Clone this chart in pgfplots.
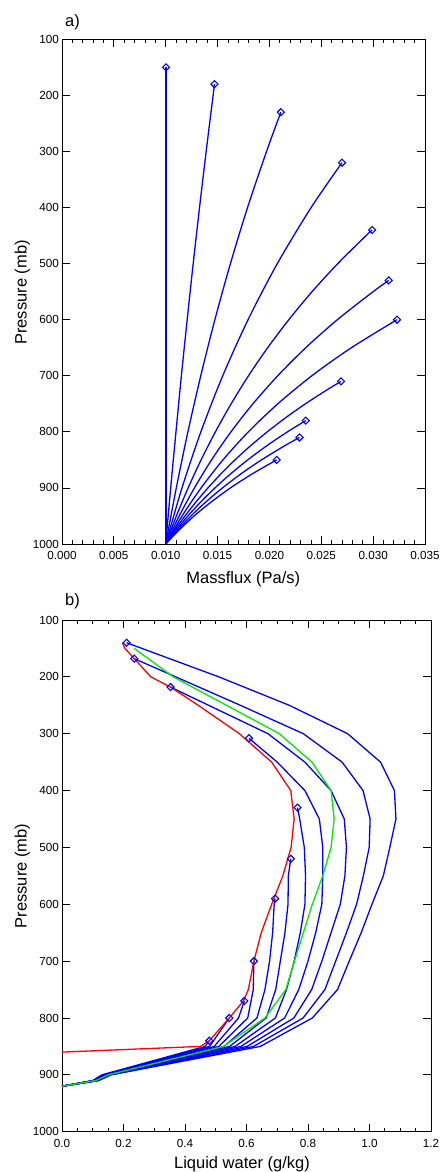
\documentclass[border=0pt]{standalone}
\usepackage{fontspec}
\setmainfont{Liberation Sans}
\usepackage{pgfplots}
\pgfplotsset{compat=1.18}
\definecolor{lgreen}{RGB}{0,235,0}
\begin{document}
\begin{tikzpicture}
\path[use as bounding box] (0bp,0bp) rectangle (441bp,1172bp);
\pgfplotsset{
  every axis/.append style={
    scale only axis,
    y dir=reverse,
    ymin=100, ymax=1000,
    ytick={100,200,300,400,500,600,700,800,900,1000},
    axis line style={line width=0.9bp},
    major tick length=8bp,
    minor tick length=4bp,
    every tick/.append style={black, line width=0.8bp},
    tick label style={font=\fontsize{11.7bp}{13bp}\selectfont},
    /pgf/number format/assume math mode=true,
    /pgf/number format/1000 sep={},
    xticklabel style={anchor=north, inner sep=0pt, yshift=-7.5bp},
    yticklabel style={anchor=east, inner sep=0pt, xshift=-3bp},
    scaled x ticks=false,
  },
  bl/.style={blue, line width=1.3bp, no markers},
  mk/.style={blue, only marks, mark=square, mark size=2.5bp, mark options={rotate=45, line width=1.1bp}},
}
% ---------------- a) ----------------
\begin{axis}[at={(62bp,628bp)}, anchor=south west, width=363bp, height=504.7bp,
  xmin=0, xmax=0.035,
  xtick={0,0.005,0.01,0.015,0.02,0.025,0.03,0.035},
  minor x tick num=4,
  xticklabel style={/pgf/number format/.cd, fixed, fixed zerofill, precision=3}]
\addplot[bl] coordinates {(0.01003,1000) (0.01003,150)};
\addplot[bl, smooth] coordinates {(0.0100,1000) (0.01048,900) (0.01099,800) (0.01151,700) (0.01207,600) (0.01265,500) (0.01326,400) (0.01390,300) (0.01457,200) (0.0147,180)};
\addplot[bl, smooth] coordinates {(0.0100,1000) (0.01102,900) (0.01214,800) (0.01338,700) (0.01474,600) (0.01624,500) (0.01789,400) (0.01972,300) (0.0211,230)};
\addplot[bl, smooth] coordinates {(0.0100,1000) (0.01157,900) (0.01339,800) (0.01550,700) (0.01794,600) (0.02076,500) (0.02402,400) (0.0270,320)};
\addplot[bl, smooth] coordinates {(0.0100,1000) (0.01103,950) (0.01216,900) (0.01341,850) (0.01479,800) (0.01631,750) (0.01798,700) (0.01983,650) (0.02187,600) (0.02411,550) (0.02659,500) (0.02932,450) (0.0299,440)};
\addplot[bl, smooth] coordinates {(0.0100,1000) (0.01130,950) (0.01277,900) (0.01442,850) (0.01629,800) (0.01841,750) (0.02080,700) (0.02350,650) (0.02655,600) (0.03000,550) (0.0315,530)};
\addplot[bl, smooth] coordinates {(0.0100,1000) (0.01158,950) (0.01341,900) (0.01552,850) (0.01797,800) (0.02081,750) (0.02409,700) (0.02790,650) (0.0323,600)};
\addplot[bl, smooth] coordinates {(0.0100,1000) (0.01089,975) (0.01186,950) (0.01292,925) (0.01407,900) (0.01532,875) (0.01668,850) (0.01817,825) (0.01979,800) (0.02155,775) (0.02347,750) (0.02556,725) (0.0269,710)};
\addplot[bl, smooth] coordinates {(0.0100,1000) (0.01102,975) (0.01214,950) (0.01338,925) (0.01475,900) (0.01625,875) (0.01791,850) (0.01973,825) (0.02174,800) (0.0235,780)};
\addplot[bl, smooth] coordinates {(0.0100,1000) (0.01115,975) (0.01244,950) (0.01387,925) (0.01547,900) (0.01725,875) (0.01924,850) (0.02145,825) (0.0229,810)};
\addplot[bl, smooth] coordinates {(0.0100,1000) (0.01129,975) (0.01274,950) (0.01439,925) (0.01624,900) (0.01834,875) (0.0207,850)};
\addplot[mk] coordinates {(0.01003,150) (0.0147,180) (0.0211,230) (0.0270,320) (0.0299,440) (0.0315,530) (0.0323,600) (0.0269,710) (0.0235,780) (0.0229,810) (0.0207,850)};
\end{axis}
% ---------------- b) ----------------
\begin{axis}[at={(62bp,40.3bp)}, anchor=south west, width=369bp, height=511.7bp,
  xmin=0, xmax=1.2,
  xtick={0,0.2,0.4,0.6,0.8,1.0,1.2},
  minor x tick num=3,
  xticklabel style={/pgf/number format/.cd, fixed, fixed zerofill, precision=1}]
\addplot[bl] coordinates {(0,920) (0.12,910) (0.16,900) (0.645,850) (0.814,800) (0.896,750) (0.934,700) (0.973,650) (1.008,600) (1.045,550) (1.066,500) (1.086,450) (1.081,400) (1.036,350) (0.929,300) (0.739,250) (0.51,200) (0.21,140)};
\addplot[bl] coordinates {(0,920) (0.118,910) (0.157,900) (0.623,850) (0.784,800) (0.855,750) (0.89,700) (0.925,650) (0.958,600) (0.98,550) (0.999,500) (1.002,450) (0.979,400) (0.911,350) (0.785,300) (0.58,250) (0.37,200) (0.235,168)};
\addplot[bl] coordinates {(0,920) (0.116,910) (0.154,900) (0.602,850) (0.754,800) (0.812,750) (0.845,700) (0.875,650) (0.905,600) (0.92,550) (0.925,500) (0.918,450) (0.875,400) (0.79,350) (0.67,300) (0.353,218)};
\addplot[bl] coordinates {(0,920) (0.114,910) (0.151,900) (0.582,850) (0.724,800) (0.77,750) (0.80,700) (0.825,650) (0.845,600) (0.848,550) (0.848,500) (0.837,450) (0.79,400) (0.70,350) (0.608,308)};
\addplot[bl] coordinates {(0,920) (0.112,910) (0.148,900) (0.563,850) (0.694,800) (0.73,750) (0.755,700) (0.775,650) (0.79,600) (0.792,550) (0.788,500) (0.773,450) (0.766,430)};
\addplot[bl] coordinates {(0,920) (0.11,910) (0.145,900) (0.545,850) (0.664,800) (0.695,750) (0.71,700) (0.725,650) (0.735,600) (0.736,550) (0.744,520)};
\addplot[bl] coordinates {(0,920) (0.108,910) (0.142,900) (0.527,850) (0.634,800) (0.66,750) (0.675,700) (0.685,650) (0.69,600) (0.693,590)};
\addplot[bl] coordinates {(0,920) (0.106,910) (0.139,900) (0.51,850) (0.604,800) (0.622,750) (0.624,700)};
\addplot[bl] coordinates {(0,920) (0.104,910) (0.136,900) (0.495,850) (0.574,800) (0.593,770)};
\addplot[bl] coordinates {(0,920) (0.102,910) (0.133,900) (0.48,850) (0.544,800)};
\addplot[bl] coordinates {(0,920) (0.10,910) (0.13,900) (0.465,850) (0.479,840)};
\addplot[lgreen, line width=1.3bp, no markers] coordinates {(0,920) (0.11,910) (0.15,900) (0.525,850) (0.66,800) (0.728,750) (0.756,700) (0.785,650) (0.814,600) (0.848,550) (0.875,500) (0.885,450) (0.875,400) (0.813,350) (0.707,300) (0.535,250) (0.362,200) (0.235,150)};
\addplot[red, line width=1.3bp, no markers] coordinates {(0,860) (0.45,850) (0.479,840) (0.544,800) (0.59,770) (0.606,750) (0.624,700) (0.648,650) (0.682,600) (0.718,550) (0.745,500) (0.755,450) (0.744,400) (0.682,350) (0.577,300) (0.443,250) (0.353,218) (0.289,200) (0.235,168) (0.205,150) (0.196,140)};
\addplot[mk] coordinates {(0.21,140) (0.235,168) (0.353,218) (0.608,308) (0.766,430) (0.744,520) (0.693,590) (0.624,700) (0.593,770) (0.544,800) (0.479,840)};
\end{axis}
\node[anchor=base, inner sep=0pt, font=\fontsize{16.5bp}{18bp}\selectfont] at (243.3bp,588.7bp) {Massflux (Pa/s)};
\node[anchor=base, inner sep=0pt, font=\fontsize{16.5bp}{18bp}\selectfont] at (242bp,3.7bp) {Liquid water (g/kg)};
\node[anchor=base, rotate=90, inner sep=0pt, font=\fontsize{16.5bp}{18bp}\selectfont] at (26.7bp,879.5bp) {Pressure (mb)};
\node[anchor=base, rotate=90, inner sep=0pt, font=\fontsize{16.5bp}{18bp}\selectfont] at (26.7bp,296bp) {Pressure (mb)};
\node[anchor=base west, inner sep=0pt, font=\fontsize{16.5bp}{18bp}\selectfont] at (65bp,1145.3bp) {a)};
\node[anchor=base west, inner sep=0pt, font=\fontsize{16.5bp}{18bp}\selectfont] at (65bp,566bp) {b)};
\end{tikzpicture}
\end{document}
